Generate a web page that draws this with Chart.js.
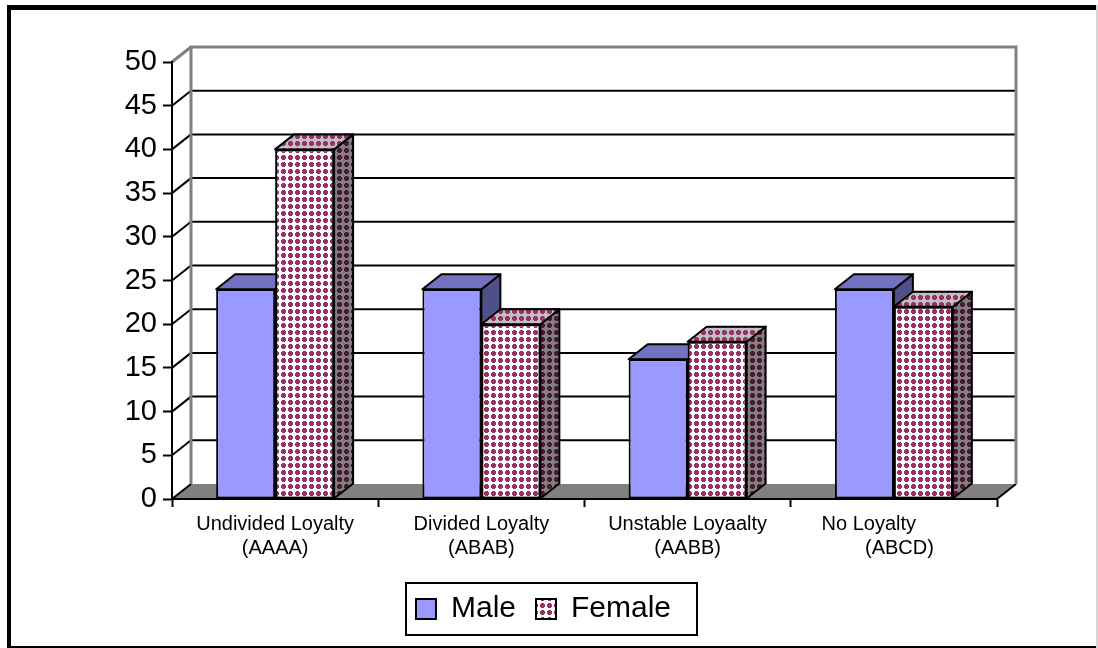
<!DOCTYPE html>
<html>
<head>
<meta charset="utf-8">
<title>Loyalty by gender</title>
<script src="https://cdn.jsdelivr.net/npm/chart.js@4.4.1/dist/chart.umd.min.js"></script>
<style>
  html, body { margin: 0; padding: 0; background: #ffffff; }
  canvas { display: block; }
</style>
</head>
<body>
<canvas id="chart" width="1098" height="648"></canvas>
<script>
// Category labels (two lines each) and the two series
const categories = [
  ['Undivided Loyalty', '(AAAA)'],
  ['Divided Loyalty', '(ABAB)'],
  ['Unstable Loyaalty', '(AABB)'],
  ['No Loyalty         ', '  (ABCD)']
];
const seriesNames = ['Male', 'Female'];
const maleValues = [24, 24, 16, 24];
const femaleValues = [40, 20, 18, 22];

// Value axis range
const yMin = 0;
const yMax = 50;
const yStep = 5;

const FONT = '"Liberation Sans", Arial, Helvetica, sans-serif';
const DX = 19;   // depth offset of the 3D box, horizontal
const DY = -15;  // depth offset of the 3D box, vertical

const canvas = document.getElementById('chart');
const mainCtx = canvas.getContext('2d');

// Small dotted tile used for the Female columns
function dotPattern(bg, dot) {
  const c = document.createElement('canvas');
  c.width = 7; c.height = 7;
  const g = c.getContext('2d');
  g.fillStyle = bg; g.fillRect(0, 0, 7, 7);
  g.fillStyle = dot;
  g.fillRect(2, 1, 3, 1);
  g.fillRect(1, 2, 5, 3);
  g.fillRect(2, 5, 3, 1);
  return mainCtx.createPattern(c, 'repeat');
}

const shades = [
  { front: '#9999FF', top: '#7272C0', side: '#505088' },
  { front: dotPattern('#FFFFFF', '#993366'), top: dotPattern('#C0C0C0', '#993366'), side: dotPattern('#808080', '#4C1933') }
];

function line(ctx, x1, y1, x2, y2) {
  ctx.beginPath(); ctx.moveTo(x1, y1); ctx.lineTo(x2, y2); ctx.stroke();
}

// Walls, floor, 3D columns and the legend frame
const box3d = {
  id: 'box3d',
  beforeDraw(chart) {
    const { ctx, width, height } = chart;
    const { left: L, right: R, bottom: B } = chart.chartArea;
    const y = chart.scales.y;
    ctx.save();
    ctx.fillStyle = '#ffffff';
    ctx.fillRect(0, 0, width, height);

    // outer frame
    ctx.fillStyle = '#000000';
    ctx.fillRect(7, 5, width - 9, 5);
    ctx.fillRect(7, 5, 4, height - 5);
    ctx.fillRect(7, height - 2, width - 9, 2);
    ctx.fillStyle = '#d6d6d6';
    ctx.fillRect(width - 2, 5, 2, height - 5);

    // back wall gridlines
    ctx.strokeStyle = '#000000';
    ctx.lineWidth = 2;
    for (let v = yMin + yStep; v < yMax; v += yStep) {
      const py = y.getPixelForValue(v) + DY;
      line(ctx, L + DX, py, R + DX, py);
    }

    // floor
    ctx.fillStyle = '#808080';
    ctx.beginPath();
    ctx.moveTo(L, B); ctx.lineTo(R, B); ctx.lineTo(R + DX, B + DY); ctx.lineTo(L + DX, B + DY);
    ctx.closePath(); ctx.fill();
    ctx.strokeStyle = '#000000';
    ctx.lineWidth = 2;
    line(ctx, R, B, R + DX, B + DY);

    // side wall diagonals
    for (let v = yMin; v < yMax; v += yStep) {
      const py = y.getPixelForValue(v);
      line(ctx, L, py, L + DX, py + DY);
    }

    // wall edges
    ctx.strokeStyle = '#808080';
    ctx.lineWidth = 3;
    const pt = y.getPixelForValue(yMax);
    line(ctx, L, pt, L + DX, pt + DY);
    ctx.beginPath();
    ctx.moveTo(L + DX, B + DY); ctx.lineTo(L + DX, pt + DY);
    ctx.lineTo(R + DX, pt + DY); ctx.lineTo(R + DX, B + DY);
    ctx.stroke();
    ctx.restore();
  },
  beforeDatasetsDraw(chart) {
    const ctx = chart.ctx;
    const metas = chart.data.datasets.map((d, i) => chart.getDatasetMeta(i));
    const n = chart.data.labels.length;
    for (let i = 0; i < n; i++) {
      metas.forEach((meta, d) => {
        const el = meta.data[i];
        if (!el) return;
        const { x, y, base, width } = el.getProps(['x', 'y', 'base', 'width'], true);
        const l = x - width / 2, r = x + width / 2;
        const s = shades[d];
        ctx.save();
        ctx.lineWidth = 2;
        ctx.strokeStyle = '#000000';
        ctx.lineJoin = 'round';
        ctx.beginPath();
        ctx.moveTo(r, base); ctx.lineTo(r, y); ctx.lineTo(r + DX, y + DY); ctx.lineTo(r + DX, base + DY);
        ctx.closePath();
        ctx.fillStyle = s.side; ctx.fill(); ctx.stroke();
        ctx.beginPath();
        ctx.moveTo(l, y); ctx.lineTo(r, y); ctx.lineTo(r + DX, y + DY); ctx.lineTo(l + DX, y + DY);
        ctx.closePath();
        ctx.fillStyle = s.top; ctx.fill(); ctx.stroke();
        ctx.restore();
        el.draw(ctx);
      });
    }
    return false;
  },
  afterDraw(chart) {
    const hb = chart.legend && chart.legend.legendHitBoxes;
    if (!hb || !hb.length) return;
    const ctx = chart.ctx;
    const first = hb[0], last = hb[hb.length - 1];
    const l = first.left - 10;
    const r = last.left + last.width + 26;
    const t = first.top - 11;
    const b = first.top + first.height + 11;
    ctx.save();
    ctx.strokeStyle = '#000000';
    ctx.lineWidth = 2;
    ctx.strokeRect(Math.round(l), Math.round(t), Math.round(r - l), Math.round(b - t));
    ctx.restore();
  }
};

Chart.defaults.color = '#000000';
Chart.defaults.font.family = FONT;

new Chart(mainCtx, {
  type: 'bar',
  data: {
    labels: categories,
    datasets: [
      {
        label: seriesNames[0],
        data: maleValues,
        backgroundColor: shades[0].front,
        borderColor: '#000000',
        borderWidth: 2,
        borderSkipped: false
      },
      {
        label: seriesNames[1],
        data: femaleValues,
        backgroundColor: shades[1].front,
        borderColor: '#000000',
        borderWidth: 2,
        borderSkipped: false
      }
    ]
  },
  options: {
    responsive: false,
    animation: false,
    devicePixelRatio: 1,
    datasets: { bar: { categoryPercentage: 0.572, barPercentage: 1.0 } },
    layout: { padding: { left: 90, right: 101, top: 62, bottom: 14 } },
    scales: {
      x: {
        type: 'category',
        offset: true,
        grid: { offset: true, drawOnChartArea: false, drawTicks: true, tickLength: 8, tickColor: '#000000', tickWidth: 2, color: '#000000' },
        border: { display: true, color: '#000000', width: 2 },
        ticks: { autoSkip: false, maxRotation: 0, minRotation: 0, padding: 5, color: '#000000', font: { size: 20, lineHeight: 1.2 } },
        afterFit(scale) { scale.height = 75; }
      },
      y: {
        min: yMin,
        max: yMax,
        grid: { drawOnChartArea: false, drawTicks: true, tickLength: 9, tickColor: '#000000', tickWidth: 2, color: '#000000' },
        border: { display: true, color: '#000000', width: 2 },
        ticks: { stepSize: yStep, padding: 6, color: '#000000', font: { size: 29 } },
        afterFit(scale) { scale.width = 82; }
      }
    },
    plugins: {
      legend: {
        position: 'bottom',
        labels: { boxWidth: 20, boxHeight: 20, padding: 20, color: '#000000', font: { size: 30 } }
      },
      tooltip: { enabled: false }
    }
  },
  plugins: [box3d]
});
</script>
</body>
</html>
